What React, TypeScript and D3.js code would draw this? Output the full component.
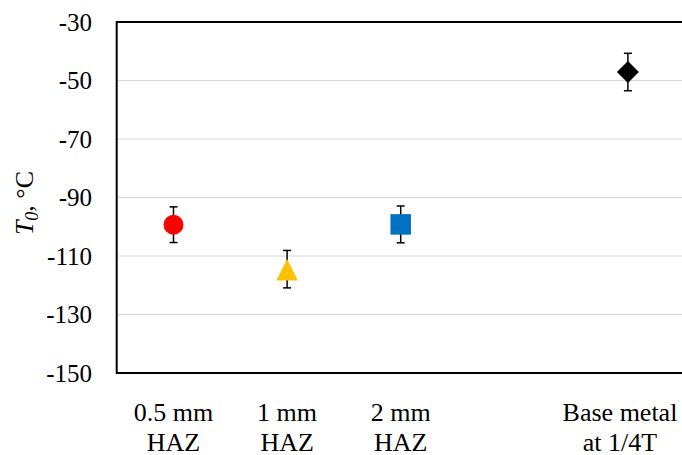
import React from "react";
import * as d3 from "d3";

const categories = ["0.5 mm|HAZ", "1 mm|HAZ", "2 mm|HAZ", "", "Base metal|at 1/4T"];
const values = [-99.3, -114.5, -99.2, null, -47.1];
const errors = [6.1, 6.4, 6.3, null, 6.4];
const markerShapes = ["circle", "triangle", "square", "", "diamond"];
const markerColors = ["#FF0000", "#FFC000", "#0070C0", "", "#000000"];
const yTicks = [-30, -50, -70, -90, -110, -130, -150];

const W = 682;
const H = 455;
const M = { left: 116.7, top: 22, right: 684.7, bottom: 373 };

const tallTriangle: d3.SymbolType = {
  draw(ctx: any, size: number) {
    const h = Math.sqrt(size * 2);
    ctx.moveTo(0, -h / 2);
    ctx.lineTo(h / 2, h / 2);
    ctx.lineTo(-h / 2, h / 2);
    ctx.closePath();
  },
};

export default function App() {
  const x = d3.scaleBand<string>().domain(categories.map((c, i) => String(i))).range([M.left, M.right]).padding(0);
  const y = d3.scaleLinear().domain([-150, -30]).range([M.bottom, M.top]);
  const symbolOf: Record<string, d3.SymbolType> = {
    circle: d3.symbolCircle,
    triangle: tallTriangle,
    square: d3.symbolSquare,
    diamond: d3.symbolSquare,
  };
  const sizeOf: Record<string, number> = { circle: 314, triangle: 230, square: 420, diamond: 240 };
  const fontStyle = { fontFamily: "'Liberation Serif', 'Times New Roman', Times, 'DejaVu Serif', serif" };
  return (
    <svg width={W} height={H} style={{ position: "absolute", left: 0, top: 0, background: "#fff" }}>
      {yTicks.map((t) => (
        <g key={t}>
          {t !== -30 && t !== -150 && (
            <line x1={M.left} x2={W} y1={y(t)} y2={y(t)} stroke="#d9d9d9" strokeWidth={1} />
          )}
          <text x={92} y={y(t)} dy="0.35em" textAnchor="end" fontSize={25} fill="#000" style={fontStyle}>
            {t}
          </text>
        </g>
      ))}
      <line x1={M.left} x2={W} y1={M.top} y2={M.top} stroke="#000" strokeWidth={2} />
      <line x1={M.left} x2={W} y1={M.bottom} y2={M.bottom} stroke="#000" strokeWidth={2} />
      <line x1={M.left} x2={M.left} y1={M.top - 1} y2={M.bottom + 1} stroke="#000" strokeWidth={2} />
      {categories.map((c, i) => {
        const v = values[i];
        const e = errors[i];
        const cx = (x(String(i)) as number) + x.bandwidth() / 2;
        if (v === null || e === null) return null;
        const shape = markerShapes[i];
        const path = d3.symbol(symbolOf[shape], sizeOf[shape])() as string;
        const yoff = shape === "triangle" ? 0.5 : 0;
        const rot = shape === "diamond" ? " rotate(45)" : "";
        return (
          <g key={i}>
            <line x1={cx} x2={cx} y1={y(v + e)} y2={y(v - e)} stroke="#000" strokeWidth={1.5} />
            <line x1={cx - 4} x2={cx + 4} y1={y(v + e)} y2={y(v + e)} stroke="#000" strokeWidth={1.5} />
            <line x1={cx - 4} x2={cx + 4} y1={y(v - e)} y2={y(v - e)} stroke="#000" strokeWidth={1.5} />
            <path d={path} transform={`translate(${cx},${y(v) + yoff})${rot}`} fill={markerColors[i]} />
          </g>
        );
      })}
      {categories.map((c, i) => {
        if (!c) return null;
        const cx = (x(String(i)) as number) + x.bandwidth() / 2;
        const lx = Math.min(cx, W - 62);
        const lines = c.split("|");
        return (
          <text key={i} x={lx} y={421} textAnchor="middle" fontSize={26} fill="#000" style={fontStyle}>
            {lines.map((l, j) => (
              <tspan key={j} x={lx} dy={j === 0 ? 0 : 29.5}>
                {l}
              </tspan>
            ))}
          </text>
        );
      })}
      <text transform={`translate(33,${203}) rotate(-90)`} textAnchor="middle" fontSize={26} fill="#000" style={fontStyle}>
        <tspan fontStyle="italic">T</tspan>
        <tspan fontStyle="italic" fontSize={18} dy={5}>0</tspan>
        <tspan dy={-5}>, °C</tspan>
      </text>
    </svg>
  );
}
